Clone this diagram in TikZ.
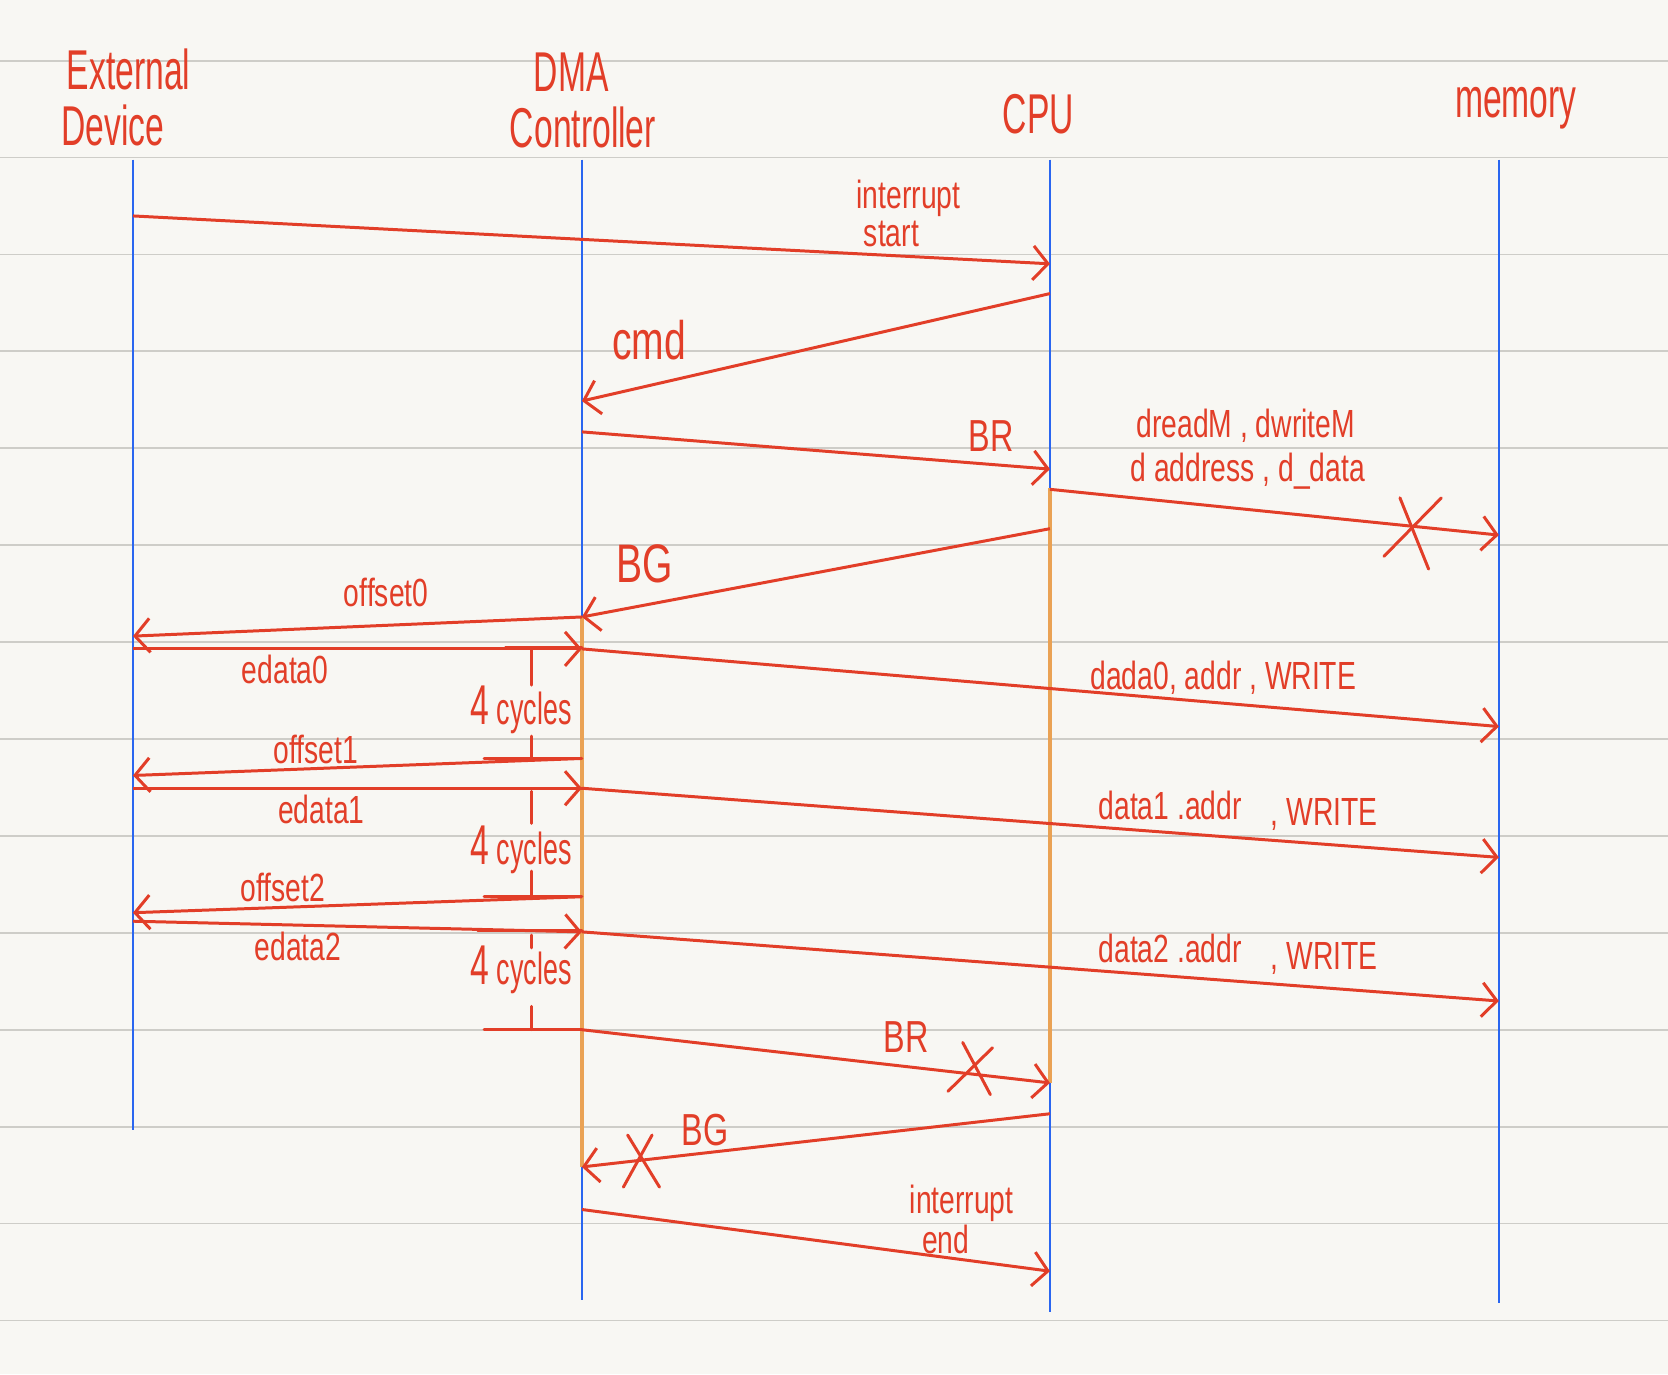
\documentclass[tikz,border=0pt]{standalone}
\usepackage{fontspec}
\newfontfamily\hand[FakeStretch=0.72]{Liberation Sans}
\newfontfamily\handn[FakeStretch=0.6]{Liberation Sans}
\usetikzlibrary{arrows.meta}
\definecolor{paper}{RGB}{248,247,243}
\definecolor{rulec}{RGB}{206,205,200}
\definecolor{ink}{RGB}{226,62,40}
\definecolor{life}{RGB}{42,102,240}
\definecolor{busy}{RGB}{234,162,84}
\begin{document}
\begin{tikzpicture}[x=0.01cm,y=-0.01cm,
  rl/.style={rulec, line width=0.5pt},
  lifeline/.style={life, line width=0.55pt},
  active/.style={busy, line width=0.9pt},
  msg/.style={ink, line width=0.8pt, -{Straight Barb[length=0.14cm,width=0.32cm,line width=0.8pt]}},
  stroke/.style={ink, line width=0.8pt, line cap=round},
  head/.style={ink, font=\handn\fontsize{15}{17}\selectfont, inner sep=0pt},
  lbl/.style={ink, font=\hand\fontsize{10.5}{12}\selectfont, inner sep=0pt},
  mid/.style={ink, font=\hand\fontsize{12}{14}\selectfont, inner sep=0pt},
  big/.style={ink, font=\hand\fontsize{14.5}{16}\selectfont, inner sep=0pt},
  cyc/.style={ink, font=\handn\fontsize{12}{14}\selectfont, inner sep=0pt}]
\fill[paper] (0,0) rectangle (1568,1292);
\useasboundingbox (0,0) rectangle (1568,1292);
% ruled paper
\foreach \yy in {57,148.1,239.2,330.3,421.4,512.5,603.6,694.7,785.8,876.9,968,1059.1,1150.2,1241.3}
  \draw[rl] (0,\yy) -- (1568,\yy);
% headers
\node[head] (ext1) at (121,65) {External};
\node[head] (ext2) at (106,118) {Device};
\node[head] (dma1) at (537,68) {DMA};
\node[head] (dma2) at (548,120) {Controller};
\node[head] (cpu) at (976,107) {CPU};
\node[head] (mem) at (1425,102) {memory};
% lifelines
\coordinate (extT) at (125,150); \coordinate (extB) at (125,1062);
\coordinate (dmaT) at (547,150); \coordinate (dmaB) at (547,1222);
\coordinate (cpuT) at (987,150); \coordinate (cpuB) at (987,1233);
\coordinate (memT) at (1409,150); \coordinate (memB) at (1409,1225);
\draw[lifeline] (extT) -- (extB);
\draw[lifeline] (dmaT) -- (dmaB);
\draw[lifeline] (cpuT) -- (cpuB);
\draw[lifeline] (memT) -- (memB);
\coordinate (dmaA1) at (547,580); \coordinate (dmaA2) at (547,1097);
\coordinate (cpuA1) at (987,459); \coordinate (cpuA2) at (987,1018);
\draw[active] (dmaA1) -- (dmaA2);
\draw[active] (cpuA1) -- (cpuA2);
% message end points
\coordinate (m1s) at (125,203);  \coordinate (m1e) at (987,248);
\coordinate (m2s) at (987,276);  \coordinate (m2e) at (547,377);
\coordinate (m3s) at (547,406);  \coordinate (m3e) at (987,441);
\coordinate (m4s) at (987,460);  \coordinate (m4e) at (1409,503);
\coordinate (m5s) at (987,497);  \coordinate (m5e) at (547,580);
\coordinate (m6s) at (547,580);  \coordinate (m6e) at (125,598);
\coordinate (m7s) at (125,610);  \coordinate (m7e) at (547,610);
\coordinate (m8s) at (547,610);  \coordinate (m8e) at (1409,683);
\coordinate (m9s) at (547,713);  \coordinate (m9e) at (125,729);
\coordinate (m10s) at (125,741); \coordinate (m10e) at (547,741);
\coordinate (m11s) at (547,741); \coordinate (m11e) at (1409,806);
\coordinate (m12s) at (547,843); \coordinate (m12e) at (125,858);
\coordinate (m13s) at (125,866); \coordinate (m13e) at (547,876);
\coordinate (m14s) at (547,876); \coordinate (m14e) at (1409,941);
\coordinate (m15s) at (547,968); \coordinate (m15e) at (987,1018);
\coordinate (m16s) at (987,1047); \coordinate (m16e) at (547,1097);
\coordinate (m17s) at (547,1137); \coordinate (m17e) at (987,1195);
\foreach \k in {1,...,17} \draw[msg] (m\k s) -- (m\k e);
% 4 cycles brackets
\foreach \ta/\tb/\lab/\ba/\bb/\tt/\tx in {611/644/667/692/713/609/475, 744/774/799/819/843/741/458, 879/891/912/946/968/875/449}{
  \draw[stroke] (500,\ta) -- (500,\tb);
  \draw[stroke] (500,\ba) -- (500,\bb);
  \draw[stroke] (455,\bb) -- (547,\bb);
  \draw[stroke] (\tx,\tt) -- (547,\tt);
  \node[cyc] at (490,\lab) {{\fontsize{15}{16}\selectfont 4}\,cycles};
}
% crosses
\draw[stroke] (1301,523) -- (1355,468);
\draw[stroke] (1316,468) -- (1343,535);
\draw[stroke] (891,1026) -- (933,985);
\draw[stroke] (905,980) -- (931,1029);
\draw[stroke] (586,1116) -- (613,1067);
\draw[stroke] (590,1067) -- (620,1116);
% labels
\node[lbl] (l1a) at (854,186) {interrupt};
\node[lbl] (l1b) at (838,220) {start};
\node[big] (l2) at (610,320) {cmd};
\node[mid] (l3) at (932,410) {BR};
\node[lbl] (l4a) at (1171,400) {dreadM , dwriteM};
\node[lbl] (l4b) at (1173,443) {d address , d\_data};
\node[big] (l5) at (606,530) {BG};
\node[lbl] (l6) at (363,557) {offset0};
\node[lbl] (l7) at (268,629) {edata0};
\node[lbl] (l8) at (1150,637) {dada0, addr , WRITE};
\node[lbl] (l9) at (297,705) {offset1};
\node[lbl] (l10) at (302,761) {edata1};
\node[lbl] (l11a) at (1100,757) {data1 .addr};
\node[lbl] (l11b) at (1245,766) {, WRITE};
\node[lbl] (l12) at (266,834) {offset2};
\node[lbl] (l13) at (280,890) {edata2};
\node[lbl] (l14a) at (1100,892) {data2 .addr};
\node[lbl] (l14b) at (1245,901) {, WRITE};
\node[mid] (l15) at (852,975) {BR};
\node[mid] (l16) at (663,1062) {BG};
\node[lbl] (l17a) at (904,1131) {interrupt};
\node[lbl] (l17b) at (889,1165) {end};
\end{tikzpicture}
\end{document}
